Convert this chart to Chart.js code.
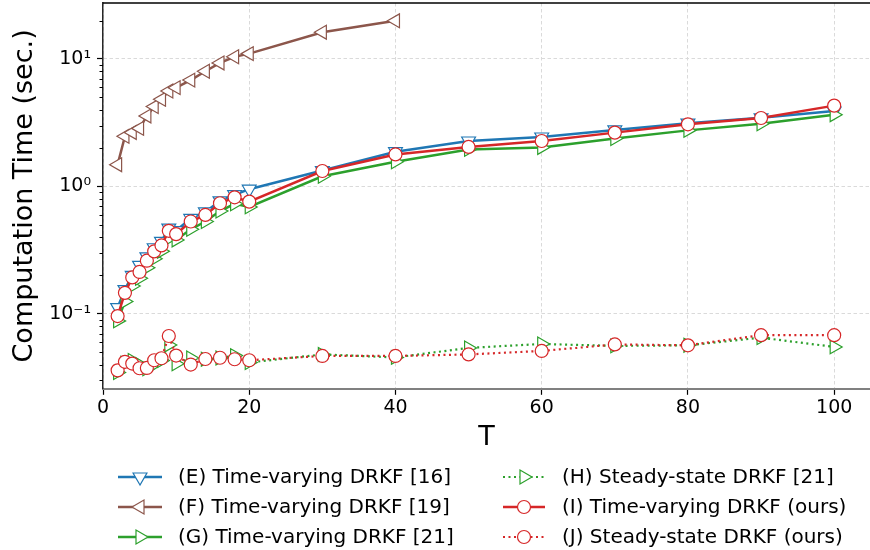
<!DOCTYPE html>
<html>
<head>
<meta charset="utf-8">
<script src="https://cdn.jsdelivr.net/npm/chart.js@4.4.1/dist/chart.umd.min.js"></script>
<style>
  html, body { margin: 0; padding: 0; background: #fff; }
  #wrap { width: 870px; height: 550px; }
</style>
</head>
<body>
<div id="wrap"><canvas id="chart" width="870" height="550"></canvas></div>
<script>
// Horizon lengths T on the x axis.
const horizons = [2, 3, 4, 5, 6, 7, 8, 9, 10, 12, 14, 16, 18, 20, 30, 40, 50, 60, 70, 80, 90, 100];
// (F) was only run up to T = 40.
const horizonsF = [2, 3, 4, 5, 6, 7, 8, 9, 10, 12, 14, 16, 18, 20, 30, 40];

// Computation time in seconds.
const timeE = [0.112, 0.155, 0.2, 0.24, 0.28, 0.33, 0.37, 0.47, 0.45, 0.56, 0.63, 0.77, 0.86, 0.95, 1.33, 1.87, 2.27, 2.44, 2.77, 3.13, 3.45, 3.9];
const timeF = [1.48, 2.47, 2.65, 2.85, 3.57, 4.23, 4.82, 5.6, 5.95, 6.82, 8.0, 9.3, 10.4, 11.0, 16.2, 19.9];
const timeG = [0.088, 0.125, 0.165, 0.19, 0.23, 0.27, 0.31, 0.39, 0.38, 0.46, 0.53, 0.64, 0.73, 0.69, 1.2, 1.56, 1.95, 2.02, 2.37, 2.75, 3.1, 3.65];
const timeH = [0.0346, 0.041, 0.043, 0.040, 0.037, 0.040, 0.043, 0.057, 0.0405, 0.045, 0.044, 0.045, 0.047, 0.0415, 0.048, 0.0455, 0.054, 0.058, 0.056, 0.0566, 0.065, 0.055];
const timeI = [0.096, 0.146, 0.193, 0.213, 0.261, 0.309, 0.344, 0.448, 0.422, 0.53, 0.597, 0.737, 0.82, 0.759, 1.32, 1.78, 2.04, 2.27, 2.64, 3.07, 3.44, 4.3];
const timeJ = [0.036, 0.042, 0.0407, 0.0374, 0.0376, 0.0432, 0.0448, 0.067, 0.047, 0.040, 0.0442, 0.0452, 0.044, 0.0432, 0.0467, 0.0467, 0.048, 0.0511, 0.0575, 0.0566, 0.068, 0.068];

const seriesLabels = [
  "(E) Time-varying DRKF [16]",
  "(F) Time-varying DRKF [19]",
  "(G) Time-varying DRKF [21]",
  "(H) Steady-state DRKF [21]",
  "(I) Time-varying DRKF (ours)",
  "(J) Steady-state DRKF (ours)",
];

// Axis ticks: decades get a label, 2..9 multiples are unlabeled minor ticks.
const xTicks = [0, 20, 40, 60, 80, 100];
const yMajorTicks = [0.1, 1, 10];
const yMajorLabels = ["10\u207B\u00B9", "10\u2070", "10\u00B9"];
const yDecades = [0.01, 0.1, 1, 10];

const fontFamily = "'DejaVu Sans', sans-serif";
Chart.defaults.font.family = fontFamily;
Chart.defaults.color = "#000";

// matplotlib tab colours
const blue = "#1f77b4", brown = "#8c564b", green = "#2ca02c", red = "#d62728";

function pts(xs, ys) {
  return xs.map((x, i) => ({ x: x, y: ys[i] }));
}

function makeSet(idx, xs, ys, color, style, rotation, radius, dotted) {
  return {
    label: seriesLabels[idx],
    data: pts(xs, ys),
    borderColor: color,
    backgroundColor: "#fff",
    borderWidth: dotted ? 2.2 : 2.5,
    borderDash: dotted ? [2, 3.5] : [],
    pointStyle: style,
    pointRotation: rotation,
    pointRadius: radius,
    pointBorderWidth: 1.2,
    pointBackgroundColor: "#fff",
    pointBorderColor: color,
    // later series sit on top, like matplotlib's plot order
    order: 6 - idx,
  };
}

const datasets = [
  makeSet(0, horizons, timeE, blue, "triangle", 180, 8, false),
  makeSet(1, horizonsF, timeF, brown, "triangle", -90, 8, false),
  makeSet(2, horizons, timeG, green, "triangle", 90, 8, false),
  makeSet(3, horizons, timeH, green, "triangle", 90, 8, true),
  makeSet(4, horizons, timeI, red, "circle", 0, 6.5, false),
  makeSet(5, horizons, timeJ, red, "circle", 0, 6.5, true),
];

function isDecade(v) {
  const e = Math.log10(v);
  return Math.abs(e - Math.round(e)) < 1e-9;
}

// Short minor ticks on y, closed top spine, and a two-column legend below.
const extras = {
  id: "extras",
  afterDraw(chart) {
    const ctx = chart.ctx;
    const area = chart.chartArea;
    const ys = chart.scales.y;
    ctx.save();
    ctx.strokeStyle = "#000";
    ctx.lineWidth = 1;
    ys.ticks.forEach((t) => {
      if (isDecade(t.value)) return;
      const py = Math.round(ys.getPixelForValue(t.value)) + 0.5;
      ctx.beginPath();
      ctx.moveTo(area.left - 3.5, py);
      ctx.lineTo(area.left, py);
      ctx.stroke();
    });
    ctx.lineWidth = 1.5;
    ctx.beginPath();
    ctx.moveTo(area.left, area.top);
    ctx.lineTo(area.right, area.top);
    ctx.stroke();

    const colLine = [[118, 162], [503, 545]];
    const colText = [178, 562];
    const rowY = [477, 507, 537];
    chart.data.datasets.forEach((ds, i) => {
      const col = i < 3 ? 0 : 1;
      const y = rowY[i % 3];
      const [x0, x1] = colLine[col];
      ctx.strokeStyle = ds.borderColor;
      ctx.lineWidth = ds.borderWidth;
      ctx.setLineDash(ds.borderDash);
      ctx.beginPath();
      ctx.moveTo(x0, y);
      ctx.lineTo(x1, y);
      ctx.stroke();
      ctx.setLineDash([]);
      ctx.fillStyle = "#fff";
      ctx.lineWidth = ds.pointBorderWidth;
      Chart.helpers.drawPoint(ctx, {
        pointStyle: ds.pointStyle,
        rotation: ds.pointRotation,
        radius: ds.pointRadius,
        borderWidth: ds.pointBorderWidth,
      }, (x0 + x1) / 2, y);
      ctx.fillStyle = "#000";
      ctx.font = "20px " + fontFamily;
      ctx.textBaseline = "middle";
      ctx.textAlign = "left";
      ctx.fillText(ds.label, colText[col], y + 1);
    });
    ctx.restore();
  },
};

new Chart(document.getElementById("chart"), {
  type: "line",
  data: { datasets: datasets },
  options: {
    responsive: false,
    animation: false,
    events: [],
    layout: { autoPadding: false, padding: { top: 3, right: 0, bottom: 96, left: 0 } },
    plugins: {
      legend: { display: false },
      tooltip: { enabled: false },
    },
    scales: {
      x: {
        type: "linear",
        min: 0,
        max: 104.9,
        ticks: {
          stepSize: 20,
          includeBounds: false,
          padding: 2,
          color: "#000",
          font: { size: 19 },
        },
        afterBuildTicks: (scale) => {
          scale.ticks = xTicks.map((v) => ({ value: v }));
        },
        afterFit: (scale) => {
          // axes run right to the image edge, as in the (cropped) reference
          scale.paddingLeft = 0;
          scale.paddingRight = 0;
        },
        grid: {
          color: "#dadada",
          lineWidth: 1,
          tickLength: 6,
          tickColor: "#000",
          tickWidth: 1.2,
          tickBorderDash: [],
        },
        border: { color: "#808080", width: 2, dash: [3.5, 2.5] },
        title: {
          display: true,
          text: "T",
          color: "#000",
          font: { size: 27 },
          padding: { top: 0, bottom: 0 },
        },
      },
      y: {
        type: "logarithmic",
        min: 0.0258,
        max: 27.46,
        afterFit: (scale) => {
          scale.width = 103;
          scale.paddingTop = 0;
          scale.paddingBottom = 0;
        },
        afterBuildTicks: (scale) => {
          const list = [];
          yDecades.forEach((d) => {
            for (let m = 1; m <= 9; m++) {
              const v = +(d * m).toPrecision(6);
              if (v >= scale.min && v <= scale.max) list.push({ value: v });
            }
          });
          scale.ticks = list;
        },
        ticks: {
          padding: 6,
          color: "#000",
          font: { size: 19 },
          autoSkip: false,
          callback: (value) => {
            const k = yMajorTicks.findIndex((t) => Math.abs(t - value) < t * 1e-6);
            return k >= 0 ? yMajorLabels[k] : "";
          },
        },
        grid: {
          color: (c) => (c.tick && isDecade(c.tick.value) ? "#dadada" : "rgba(0,0,0,0)"),
          lineWidth: 1,
          tickLength: 6,
          tickColor: (c) => (c.tick && isDecade(c.tick.value) ? "#000" : "rgba(0,0,0,0)"),
          tickWidth: 1.2,
          tickBorderDash: [],
        },
        border: { color: "#262626", width: 1.5, dash: [3.5, 2.5] },
        title: {
          display: true,
          text: "Computation Time (sec.)",
          color: "#000",
          font: { size: 27 },
          padding: { top: 9, bottom: 0 },
        },
      },
    },
  },
  plugins: [extras],
});
</script>
</body>
</html>
